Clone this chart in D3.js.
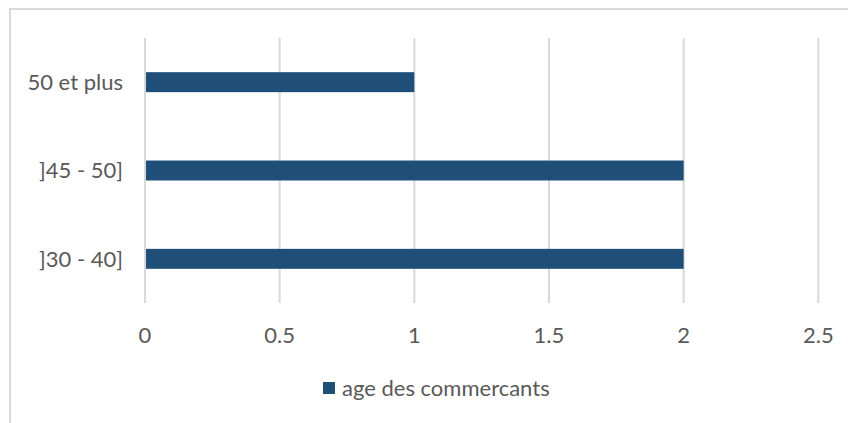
<!DOCTYPE html>
<html><head><meta charset="utf-8">
<script src="https://cdn.jsdelivr.net/npm/d3@7"></script>
<style>body{margin:0;background:#fff;}svg{display:block;font-family:Lato,"Open Sans",sans-serif;}</style>
</head><body><svg id="c" width="848" height="423"></svg>
<script>
const categories = ["50 et plus", "]45 - 50]", "]30 - 40]"];
const values = [1, 2, 2];
const seriesName = "age des commercants";
const xTicks = [0, 0.5, 1, 1.5, 2, 2.5];

const svg = d3.select("#c");
const color = "#1F4E79", grid = "#d9d9d9", txt = "#595959";
const fs = 22;

// chart border
svg.append("rect").attr("x", 10).attr("y", 9).attr("width", 860).attr("height", 440)
  .attr("fill", "none").attr("stroke", grid).attr("stroke-width", 2);

const x = d3.scaleLinear().domain([0, 2.5]).range([145, 818.3]);
const y = d3.scaleBand().domain(categories).range([38, 303]).paddingInner(0.774).paddingOuter(0.387);

svg.append("g").selectAll("line").data(xTicks).join("line")
  .attr("x1", d => x(d)).attr("x2", d => x(d)).attr("y1", 38).attr("y2", 303)
  .attr("stroke", grid).attr("stroke-width", 2);

svg.append("g").selectAll("rect").data(values).join("rect")
  .attr("x", x(0) + 1).attr("y", (d, i) => y(categories[i]))
  .attr("width", d => x(d) - x(0) - 1).attr("height", y.bandwidth())
  .attr("fill", color);

svg.append("g").selectAll("text").data(categories).join("text")
  .attr("x", 123).attr("y", d => y(d) + y.bandwidth() / 2).attr("dy", "0.35em")
  .attr("text-anchor", "end").attr("fill", txt).attr("font-size", fs).text(d => d);

svg.append("g").selectAll("text").data(xTicks).join("text")
  .attr("x", d => x(d)).attr("y", 335).attr("dy", "0.35em")
  .attr("text-anchor", "middle").attr("fill", txt).attr("font-size", fs).text(d => d);

const lg = svg.append("g");
lg.append("rect").attr("x", 323).attr("y", 382).attr("width", 12).attr("height", 12).attr("fill", color);
lg.append("text").attr("x", 342).attr("y", 388).attr("dy", "0.35em").attr("fill", txt)
  .attr("font-size", fs).text(seriesName);
</script></body></html>
